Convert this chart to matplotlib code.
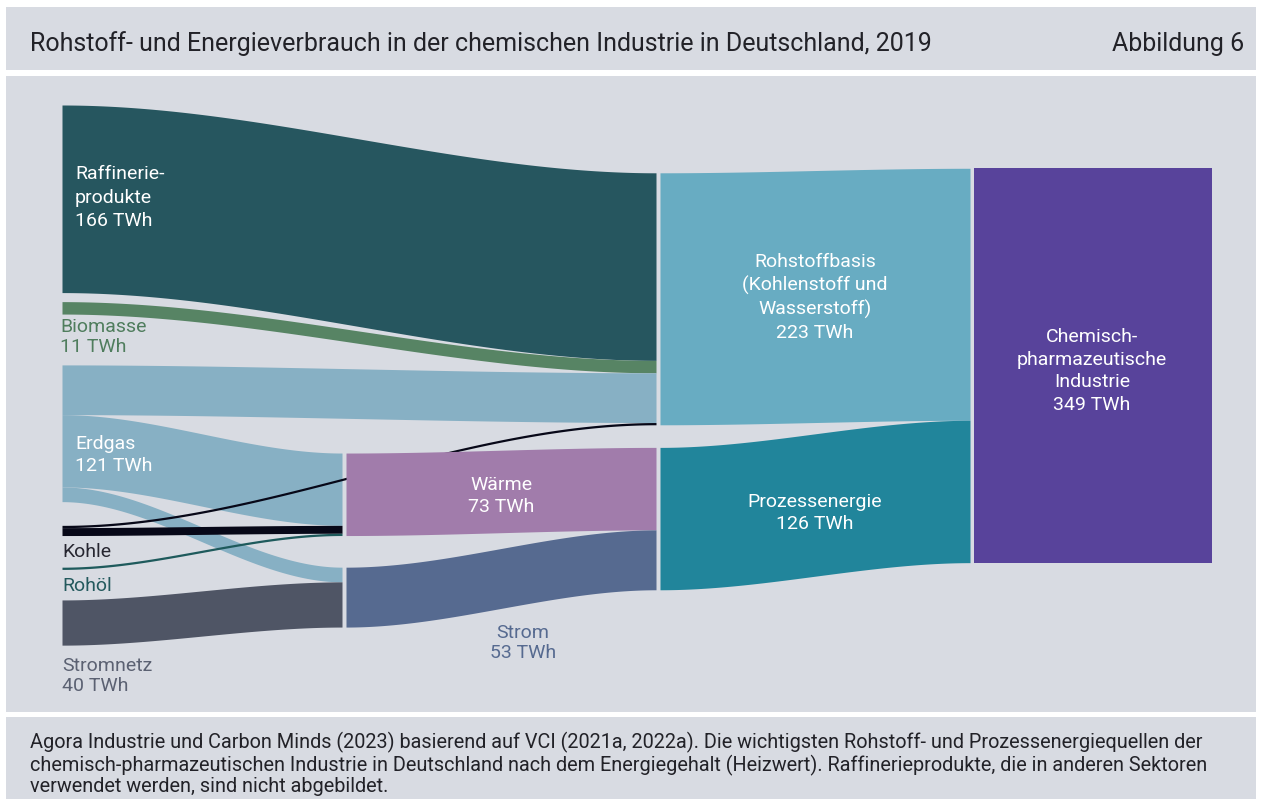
import numpy as np
import matplotlib.pyplot as plt
from matplotlib.patches import Rectangle

plt.rcParams['font.family'] = ['Roboto', 'DejaVu Sans']

# --- data (TWh) ---
sources = ['Raffinerieprodukte', 'Biomasse', 'Erdgas', 'Kohle', 'Rohöl', 'Stromnetz']
source_values = [166, 11, 121, 9, 2, 40]
carriers = ['Wärme', 'Strom']
carrier_values = [73, 53]
uses = ['Rohstoffbasis', 'Prozessenergie']
use_values = [223, 126]
total = ['Chemie']
total_values = [349]

flow_src = ['Raffinerieprodukte', 'Biomasse', 'Erdgas', 'Erdgas', 'Erdgas', 'Kohle', 'Kohle',
            'Rohöl', 'Stromnetz', 'Wärme', 'Strom', 'Rohstoffbasis', 'Prozessenergie']
flow_dst = ['Rohstoffbasis', 'Rohstoffbasis', 'Rohstoffbasis', 'Wärme', 'Strom', 'Rohstoffbasis', 'Wärme',
            'Wärme', 'Strom', 'Prozessenergie', 'Prozessenergie', 'Chemie', 'Chemie']
flow_val = [166, 11, 44, 64, 13, 2, 7, 2, 40, 73, 53, 223, 126]

labels = {
    'Raffinerieprodukte': 'Raffinerie-\nprodukte\n166 TWh',
    'Biomasse': 'Biomasse\n11 TWh',
    'Erdgas': 'Erdgas\n121 TWh',
    'Kohle': 'Kohle',
    'Rohöl': 'Rohöl',
    'Stromnetz': 'Stromnetz\n40 TWh',
    'Wärme': 'Wärme\n73 TWh',
    'Strom': 'Strom\n53 TWh',
    'Rohstoffbasis': 'Rohstoffbasis\n(Kohlenstoff und\nWasserstoff)\n223 TWh',
    'Prozessenergie': 'Prozessenergie\n126 TWh',
    'Chemie': 'Chemisch-\npharmazeutische\nIndustrie\n349 TWh',
}

colors = {
    'Raffinerieprodukte': '#26565f',
    'Biomasse': '#578464',
    'Erdgas': '#87b0c4',
    'Kohle': '#070818',
    'Rohöl': '#1e5a5c',
    'Stromnetz': '#4f5565',
    'Wärme': '#a17cab',
    'Strom': '#566a90',
    'Rohstoffbasis': '#68acc2',
    'Prozessenergie': '#21859b',
    'Chemie': '#58439b',
}

# --- layout ---
W, H = 1261, 799
S = 1.13          # px per TWh
Y0 = 105          # pixel row of TWh 0
col_x = [62, 344, 658, 972]
node_gap = 2
chem_right = 1212
BG = '#d8dbe2'

# vertical placement of nodes (gaps in TWh)
tops = {}
y = 0
for name, v, g in zip(sources, source_values, [0, 8, 45, 21, 28, 27]):
    y += g
    tops[name] = y
    y += v
y = 308
for name, v, g in zip(carriers, carrier_values, [0, 28]):
    y += g
    tops[name] = y
    y += v
y = 60
for name, v, g in zip(uses, use_values, [0, 20]):
    y += g
    tops[name] = y
    y += v
tops['Chemie'] = 56

column = {n: 0 for n in sources}
column.update({n: 1 for n in carriers})
column.update({n: 2 for n in uses})
column['Chemie'] = 3
values = dict(zip(sources + carriers + uses + total, source_values + carrier_values + use_values + total_values))

fig = plt.figure(figsize=(W / 100, H / 100), dpi=100)
fig.patch.set_facecolor('white')


def panel(x0, y0, x1, y1):
    fig.add_artist(Rectangle((x0 / W, 1 - y1 / H), (x1 - x0) / W, (y1 - y0) / H,
                             transform=fig.transFigure, facecolor=BG, lw=0, zorder=0))


panel(6, 7, 1256, 70)
panel(6, 76, 1256, 712)
panel(6, 717, 1256, 799)

ax = fig.add_axes([0, 0, 1, 1])
ax.set_xlim(0, W)
ax.set_ylim((H - Y0) / S, -Y0 / S)
ax.axis('off')
ax.patch.set_alpha(0)


def band(x0, x1, t0, b0, t1, b1, color, z):
    x = np.linspace(x0, x1, 200)
    u = (x - x0) / (x1 - x0)
    k = 3 * u ** 2 - 2 * u ** 3
    ax.fill_between(x, t0 + (t1 - t0) * k, b0 + (b1 - b0) * k, color=color, lw=0, zorder=z)


out_ptr = dict(tops)
in_ptr = dict(tops)
for i, (s, d, v) in enumerate(zip(flow_src, flow_dst, flow_val)):
    cs, cd = column[s], column[d]
    x0 = col_x[cs] + (node_gap if cs > 0 else 0)
    x1 = col_x[cd] - node_gap
    t0, t1 = out_ptr[s], in_ptr[d]
    band(x0, x1, t0, t0 + v, t1, t1 + v, colors[s], 2 + i * 0.01)
    out_ptr[s] += v
    in_ptr[d] += v

ax.add_patch(Rectangle((col_x[3] + node_gap, tops['Chemie']), chem_right - col_x[3] - node_gap,
                       values['Chemie'], facecolor=colors['Chemie'], lw=0, zorder=3))

fs = 14


def bottom(n):
    return tops[n] + values[n]


# labels inside / beside left nodes
ax.text(75, tops['Raffinerieprodukte'] + 82, labels['Raffinerieprodukte'], color='white', fontsize=fs,
        va='center', ha='left', linespacing=1.4, zorder=5)
ax.text(60, bottom('Biomasse') + 20, labels['Biomasse'], color='#4f7d5d', fontsize=fs,
        va='center', ha='left', linespacing=1.15, zorder=5)
ax.text(75, tops['Erdgas'] + 80, labels['Erdgas'], color='white', fontsize=fs,
        va='center', ha='left', linespacing=1.3, zorder=5)
ax.text(62, bottom('Kohle') + 15, labels['Kohle'], color='#262630', fontsize=fs,
        va='center', ha='left', zorder=5)
ax.text(62, bottom('Rohöl') + 15, labels['Rohöl'], color='#23595d', fontsize=fs,
        va='center', ha='left', zorder=5)
ax.text(62, bottom('Stromnetz') + 27, labels['Stromnetz'], color='#5b6172', fontsize=fs,
        va='center', ha='left', linespacing=1.15, zorder=5)

mid12 = (col_x[1] + col_x[2]) / 2
mid23 = (col_x[2] + col_x[3]) / 2
ax.text(mid12, (tops['Wärme'] + tops['Prozessenergie'] + values['Wärme']) / 2 + 4, labels['Wärme'],
        color='white', fontsize=fs, ha='center', va='center', linespacing=1.3, zorder=5)
ax.text(mid12 + 22, bottom('Strom') + 14, labels['Strom'], color='#566a90', fontsize=fs,
        ha='center', va='center', linespacing=1.15, zorder=5)
ax.text(mid23, (tops['Rohstoffbasis'] + tops['Chemie'] + values['Rohstoffbasis']) / 2 + 1, labels['Rohstoffbasis'],
        color='white', fontsize=fs, ha='center', va='center', linespacing=1.32, zorder=5)
ax.text(mid23, tops['Prozessenergie'] + values['Prozessenergie'] / 2 - 5, labels['Prozessenergie'],
        color='white', fontsize=fs, ha='center', va='center', linespacing=1.3, zorder=5)
ax.text((col_x[3] + chem_right) / 2, tops['Chemie'] + values['Chemie'] / 2 + 5, labels['Chemie'],
        color='white', fontsize=fs, ha='center', va='center', linespacing=1.32, zorder=5)

# header / footer
fig.text(30 / W, 1 - 44 / H, 'Rohstoff- und Energieverbrauch in der chemischen Industrie in Deutschland, 2019',
         fontsize=18, color='#222228', va='center', ha='left')
fig.text(1244 / W, 1 - 44 / H, 'Abbildung 6', fontsize=18, color='#222228', va='center', ha='right')
fig.text(30 / W, 1 - 764 / H,
         'Agora Industrie und Carbon Minds (2023) basierend auf VCI (2021a, 2022a). Die wichtigsten Rohstoff- und '
         'Prozessenergiequellen der\nchemisch-pharmazeutischen Industrie in Deutschland nach dem Energiegehalt '
         '(Heizwert). Raffinerieprodukte, die in anderen Sektoren\nverwendet werden, sind nicht abgebildet.',
         fontsize=14.3, color='#222228', va='center', ha='left', linespacing=1.08)

fig.savefig('out.png', dpi=100, facecolor='white')
